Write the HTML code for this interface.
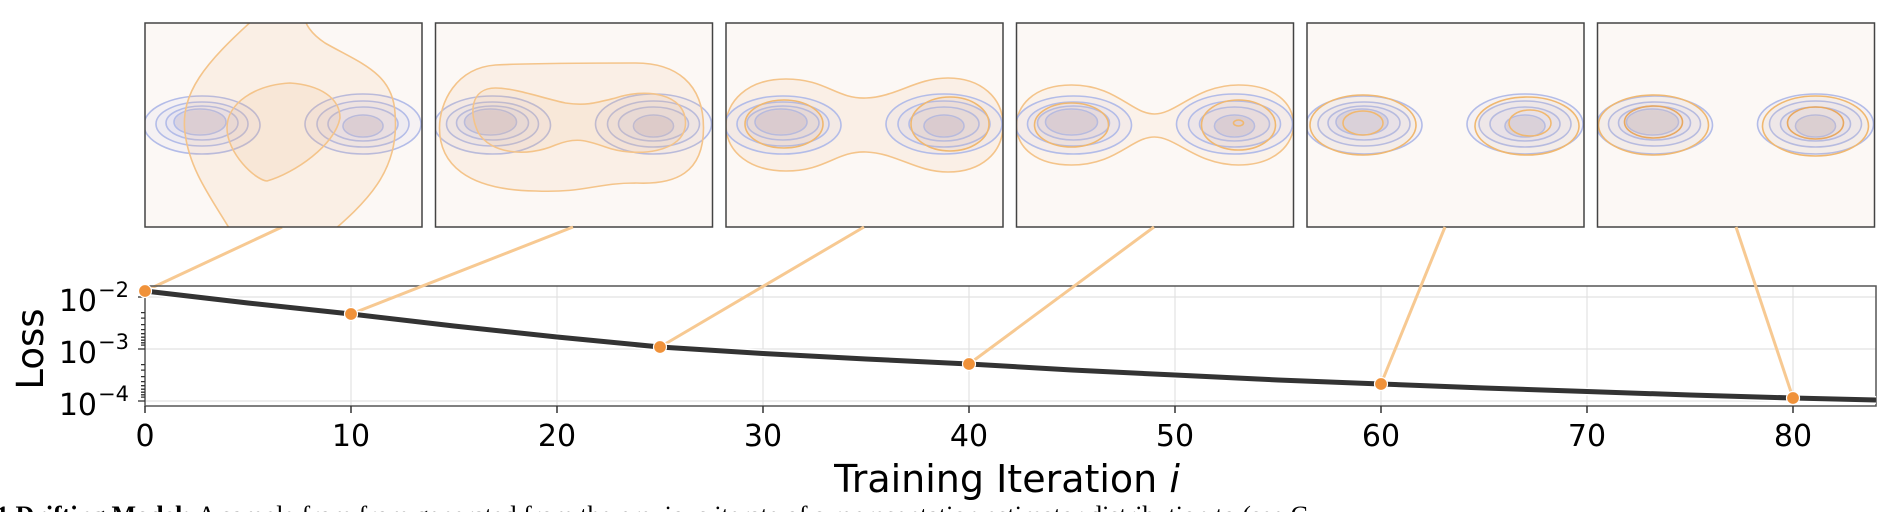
<!DOCTYPE html>
<html><head><meta charset="utf-8"><style>
html,body{margin:0;padding:0;background:#fff;width:1894px;height:512px;overflow:hidden}
svg{display:block}
text{font-family:"DejaVu Sans","Liberation Sans",sans-serif;fill:#000}
</style></head><body>
<svg width="1894" height="512" viewBox="0 0 1894 512" xmlns="http://www.w3.org/2000/svg">
<defs>
<clipPath id="pc"><rect x="0" y="0" width="277" height="204"/></clipPath>
<clipPath id="frame"><rect x="0" y="0" width="1894" height="512"/></clipPath>
<g id="blue">
  <g fill="rgba(150,160,220,0.07)" stroke="#b3bce8" stroke-width="1.6">
    <ellipse cx="57" cy="102" rx="58" ry="29"/>
    <ellipse cx="57" cy="101" rx="46" ry="22"/>
    <ellipse cx="57" cy="100" rx="36" ry="17"/>
    <ellipse cx="55" cy="99" rx="26" ry="13"/>
    <ellipse cx="218" cy="101" rx="58" ry="30"/>
    <ellipse cx="218" cy="101" rx="46" ry="23"/>
    <ellipse cx="218" cy="101" rx="35" ry="17"/>
    <ellipse cx="218" cy="103" rx="20" ry="11"/>
  </g>
  <ellipse cx="55" cy="99" rx="25" ry="12" fill="rgba(200,190,200,0.35)"/>
  <ellipse cx="218" cy="103" rx="19" ry="10" fill="rgba(200,190,200,0.35)"/>
</g>
</defs>

<g stroke="#f7c992" stroke-width="3" fill="none">
<line x1="282" y1="227" x2="145" y2="291"/>
</g>

<g transform="translate(145,23)">
 <rect width="277" height="204" fill="#fcf8f5"/>
 <g clip-path="url(#pc)">
 <use href="#blue"/>
 <path d="M110,-5 C60,40 35,70 40,110 C45,150 70,180 90,215 L180,215 C220,180 255,150 250,90 C248,50 215,40 180,20 C165,10 160,0 160,-5 Z" fill="rgba(240,180,120,0.13)" stroke="#f4c48a" stroke-width="1.6"/>
 <path d="M145,60 C110,62 82,80 82,105 C82,130 110,157 122,158 C150,150 190,122 195,95 C195,75 175,62 145,60 Z" fill="rgba(240,180,120,0.13)" stroke="#f4c48a" stroke-width="1.6"/>
 </g>
 <rect width="277" height="204" fill="none" stroke="#444" stroke-width="1.5"/>
</g>
<g transform="translate(435.5,23)">
 <rect width="277" height="204" fill="#fcf8f5"/>
 <g clip-path="url(#pc)">
 <use href="#blue"/>
 <path d="M60,42 C20,45 4,80 4,105 C4,140 30,167 100,168 C150,170 160,160 200,160 C240,162 268,150 268,105 C268,60 240,40 200,40 C160,40 100,40 60,42 Z" fill="rgba(240,180,120,0.12)" stroke="#f4c48a" stroke-width="1.6"/>
 <path d="M60,65 C35,65 33,90 43,110 C55,130 90,135 120,122 C140,114 150,117 170,124 C200,135 250,130 250,100 C250,70 210,65 180,75 C160,80 150,83 130,80 C110,76 80,65 60,65 Z" fill="rgba(240,180,120,0.12)" stroke="#f4c48a" stroke-width="1.6"/>
 </g>
 <rect width="277" height="204" fill="none" stroke="#444" stroke-width="1.5"/>
</g>
<g transform="translate(726,23)">
 <rect width="277" height="204" fill="#fcf8f5"/>
 <g clip-path="url(#pc)">
 <path d="M60,56 C20,56 0,80 0,102 C0,130 25,148 60,148 C100,148 110,128 140,129 C170,130 190,149 222,149 C255,149 277,130 277,102 C277,75 255,55 222,55 C190,55 170,74 140,75 C110,76 100,56 60,56 Z" fill="rgba(240,180,120,0.12)" stroke="#f4c48a" stroke-width="1.6"/>
 <use href="#blue"/>
 <ellipse cx="58" cy="101" rx="39" ry="24" fill="rgba(240,180,120,0.1)" stroke="#f0b870" stroke-width="1.6"/>
 <ellipse cx="224" cy="101" rx="39" ry="27" fill="rgba(240,180,120,0.1)" stroke="#f0b870" stroke-width="1.6"/>
 </g>
 <rect width="277" height="204" fill="none" stroke="#444" stroke-width="1.5"/>
</g>
<g transform="translate(1016.5,23)">
 <rect width="277" height="204" fill="#fcf8f5"/>
 <g clip-path="url(#pc)">
 <path d="M55,62 C15,62 0,85 0,102 C0,125 20,142 55,142 C100,142 115,114 138,114 C160,114 180,142 222,142 C260,142 277,120 277,102 C277,80 258,62 222,62 C180,62 160,91 138,91 C115,91 100,62 55,62 Z" fill="rgba(240,180,120,0.08)" stroke="#f4c48a" stroke-width="1.6"/>
 <use href="#blue"/>
 <ellipse cx="55" cy="102" rx="37" ry="22" fill="rgba(240,180,120,0.08)" stroke="#f0b870" stroke-width="1.6"/>
 <ellipse cx="222" cy="102" rx="37" ry="25" fill="rgba(240,180,120,0.08)" stroke="#f0b870" stroke-width="1.6"/>
 <ellipse cx="222" cy="100" rx="5" ry="3" fill="none" stroke="#f0b870" stroke-width="1.6"/>
 </g>
 <rect width="277" height="204" fill="none" stroke="#444" stroke-width="1.5"/>
</g>
<g transform="translate(1307,23)">
 <rect width="277" height="204" fill="#fcf8f5"/>
 <g clip-path="url(#pc)">
 <use href="#blue"/>
 <ellipse cx="56" cy="102" rx="53" ry="30" fill="rgba(240,180,120,0.07)" stroke="#f0b870" stroke-width="1.6"/>
 <ellipse cx="56" cy="100" rx="20" ry="12" fill="none" stroke="#f0b870" stroke-width="1.6"/>
 <ellipse cx="220" cy="103" rx="52" ry="29" fill="rgba(240,180,120,0.07)" stroke="#f0b870" stroke-width="1.6"/>
 <ellipse cx="223" cy="100" rx="21" ry="13" fill="none" stroke="#f0b870" stroke-width="1.6"/>
 </g>
 <rect width="277" height="204" fill="none" stroke="#444" stroke-width="1.5"/>
</g>
<g transform="translate(1597.5,23)">
 <rect width="277" height="204" fill="#fcf8f5"/>
 <g clip-path="url(#pc)">
 <use href="#blue"/>
 <ellipse cx="56" cy="102" rx="55" ry="30" fill="rgba(240,180,120,0.07)" stroke="#f0b870" stroke-width="1.6"/>
 <ellipse cx="56" cy="99" rx="29" ry="16" fill="rgba(240,180,120,0.07)" stroke="#e8a860" stroke-width="1.6"/>
 <ellipse cx="218" cy="103" rx="53" ry="30" fill="rgba(240,180,120,0.07)" stroke="#f0b870" stroke-width="1.6"/>
 <ellipse cx="218" cy="100" rx="28" ry="16" fill="rgba(240,180,120,0.07)" stroke="#e8a860" stroke-width="1.6"/>
 </g>
 <rect width="277" height="204" fill="none" stroke="#444" stroke-width="1.5"/>
</g>

<g stroke="#e2e2e2" stroke-width="1.2">
<line x1="145" y1="297" x2="1876" y2="297"/>
<line x1="145" y1="349" x2="1876" y2="349"/>
<line x1="145" y1="401" x2="1876" y2="401"/>
<line x1="351" y1="286" x2="351" y2="406"/>
<line x1="557" y1="286" x2="557" y2="406"/>
<line x1="763" y1="286" x2="763" y2="406"/>
<line x1="969" y1="286" x2="969" y2="406"/>
<line x1="1175" y1="286" x2="1175" y2="406"/>
<line x1="1381" y1="286" x2="1381" y2="406"/>
<line x1="1587" y1="286" x2="1587" y2="406"/>
<line x1="1793" y1="286" x2="1793" y2="406"/>
</g>
<rect x="145" y="286" width="1731" height="120" fill="none" stroke="#555" stroke-width="1.5"/>
<g stroke="#f7c992" stroke-width="3" fill="none">
<line x1="573" y1="227" x2="351" y2="314"/>
<line x1="864" y1="227" x2="660" y2="347"/>
<line x1="1154" y1="227" x2="969" y2="364"/>
<line x1="1445" y1="227" x2="1381" y2="384"/>
<line x1="1736" y1="227" x2="1793" y2="398"/>
</g>
<g stroke="#333" stroke-width="1.3">
<line x1="138" y1="297" x2="145" y2="297"/>
<line x1="138" y1="349" x2="145" y2="349"/>
<line x1="138" y1="401" x2="145" y2="401"/>
<path d="M141,312.6H145M141,318.1H145M141,324.6H145M141,329.6H145M141,333.7H145M141,337.2H145M141,340.2H145M141,342.8H145M141,345.1H145
M141,364.6H145M141,370.1H145M141,376.6H145M141,381.6H145M141,385.7H145M141,389.2H145M141,392.2H145M141,394.8H145M141,397.1H145
M141,293.1H145M141,289.6H145"/>
</g>
<g stroke="#333" stroke-width="1.5">
<path d="M145,406V413M351,406V413M557,406V413M763,406V413M969,406V413M1175,406V413M1381,406V413M1587,406V413M1793,406V413"/>
</g>
<polyline fill="none" stroke="#fff" stroke-width="8" points="145,291 248,303 351,314 454,326 557,337 660,347 763,353.5 866,359 969,364 1072,370 1175,375 1278,380 1381,384 1484,388 1587,391.5 1690,395 1793,398 1876,400"/>
<polyline fill="none" stroke="#333" stroke-width="5" points="145,291 248,303 351,314 454,326 557,337 660,347 763,353.5 866,359 969,364 1072,370 1175,375 1278,380 1381,384 1484,388 1587,391.5 1690,395 1793,398 1876,400"/>
<g fill="#f0923a" stroke="#fff" stroke-width="1.2">
<circle cx="145" cy="291" r="6.5"/>
<circle cx="351" cy="314" r="6.5"/>
<circle cx="660" cy="347" r="6.5"/>
<circle cx="969" cy="364" r="6.5"/>
<circle cx="1381" cy="384" r="6.5"/>
<circle cx="1793" cy="398" r="6.5"/>
</g>
<g font-size="30" text-anchor="middle">
<text x="145" y="446">0</text>
<text x="351" y="446">10</text>
<text x="557" y="446">20</text>
<text x="763" y="446">30</text>
<text x="969" y="446">40</text>
<text x="1175" y="446">50</text>
<text x="1381" y="446">60</text>
<text x="1587" y="446">70</text>
<text x="1793" y="446">80</text>
</g>
<g font-size="30" text-anchor="end">
<text x="97" y="311">10</text>
<text x="97" y="363">10</text>
<text x="97" y="415">10</text>
</g>
<g font-size="21">
<text x="98" y="297">−2</text>
<text x="98" y="349">−3</text>
<text x="98" y="401">−4</text>
</g>
<text transform="translate(43,349) rotate(-90)" font-size="37" text-anchor="middle">Loss</text>
<text x="1007" y="492" font-size="38" text-anchor="middle">Training Iteration <tspan font-style="italic">i</tspan></text>
<g clip-path="url(#frame)">
<text x="-4" y="524" font-size="26" style="font-family:'Liberation Serif',serif;font-weight:bold">1 Drifting Model: <tspan font-weight="normal">A sample from from generated from the previous iterate of a representation estimator distribution to (see C</tspan></text>
</g>
</svg>
</body></html>
